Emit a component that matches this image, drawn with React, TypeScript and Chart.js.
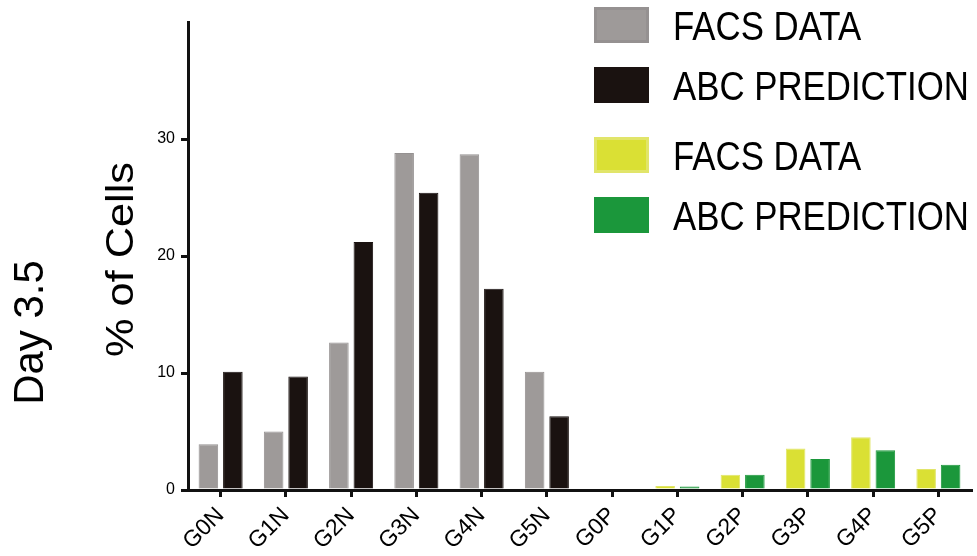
import React, { useEffect, useRef } from "react";
import { Chart, registerables } from "chart.js";

Chart.register(...registerables);

// Generation categories: N = negative population, P = positive population
const categories = ["G0N", "G1N", "G2N", "G3N", "G4N", "G5N", "G0P", "G1P", "G2P", "G3P", "G4P", "G5P"];

// Percentage of cells per generation
const facsData = [3.9, 5.0, 12.6, 28.8, 28.7, 10.1, 0, 0.35, 1.3, 3.55, 4.5, 1.8];
const abcPrediction = [10.1, 9.7, 21.2, 25.4, 17.2, 6.3, 0, 0.3, 1.3, 2.65, 3.4, 2.15];

const seriesNames = ["FACS DATA", "ABC PREDICTION"];
const yTicks = [0, 10, 20, 30];
const yMax = 40;

const yTitle = "% of Cells";
const panelTitle = "Day 3.5";

const GREY = "#9e9a99";
const GREY_EDGE = "#959191";
const BLACK = "#1a1210";
const BLACK_EDGE = "#1a1210";
const YELLOW = "#dae034";
const YELLOW_EDGE = "#e1e56a";
const GREEN = "#1b973b";
const GREEN_EDGE = "#1b973b";

const FONT = "'Liberation Sans', Arial, Helvetica, sans-serif";

const isPositive = (c: string) => c.endsWith("P");

const sideTextPlugin = {
  id: "sideText",
  afterDraw(chart: any) {
    const { ctx } = chart;
    ctx.save();

    // Legend: two pairs of swatches (N colours, then P colours)
    const legendRows = [
      { label: seriesNames[0], fill: GREY, edge: GREY_EDGE },
      { label: seriesNames[1], fill: BLACK, edge: BLACK_EDGE },
      { label: seriesNames[0], fill: YELLOW, edge: YELLOW_EDGE },
      { label: seriesNames[1], fill: GREEN, edge: GREEN_EDGE },
    ];
    const rowCenters = [25, 85, 155, 215];
    legendRows.forEach((row, i) => {
      const cy = rowCenters[i];
      ctx.fillStyle = row.edge;
      ctx.fillRect(594, cy - 18, 55, 36);
      ctx.fillStyle = row.fill;
      ctx.fillRect(597, cy - 15, 49, 30);
      ctx.save();
      ctx.translate(673, cy + 15);
      ctx.scale(0.87, 1);
      ctx.fillStyle = "#000";
      ctx.font = `40px ${FONT}`;
      ctx.textAlign = "left";
      ctx.textBaseline = "alphabetic";
      ctx.fillText(row.label, 0, 0);
      ctx.restore();
    });

    // Vertical axis title
    ctx.save();
    ctx.font = `38px ${FONT}`;
    const w = ctx.measureText(yTitle).width;
    ctx.translate(133, 259.5);
    ctx.rotate(-Math.PI / 2);
    ctx.scale(195 / w, 1);
    ctx.fillStyle = "#000";
    ctx.textAlign = "center";
    ctx.textBaseline = "alphabetic";
    ctx.fillText(yTitle, 0, 0);
    ctx.restore();

    // Panel title
    ctx.save();
    ctx.font = `42px ${FONT}`;
    ctx.translate(43, 332.5);
    ctx.rotate(-Math.PI / 2);
    ctx.fillStyle = "#000";
    ctx.textAlign = "center";
    ctx.textBaseline = "alphabetic";
    ctx.fillText(panelTitle, 0, 0);
    ctx.restore();

    ctx.restore();
  },
};

export default function App() {
  const canvasRef = useRef<HTMLCanvasElement | null>(null);

  useEffect(() => {
    if (!canvasRef.current) return;
    const chart = new Chart(canvasRef.current, {
      type: "bar",
      data: {
        labels: categories,
        datasets: [
          {
            label: seriesNames[0],
            data: facsData,
            backgroundColor: categories.map((c) => (isPositive(c) ? YELLOW : GREY)),
            borderColor: categories.map((c) => (isPositive(c) ? YELLOW_EDGE : GREY_EDGE)),
            borderWidth: 1,
            categoryPercentage: 0.75,
            barPercentage: 0.8,
          },
          {
            label: seriesNames[1],
            data: abcPrediction,
            backgroundColor: categories.map((c) => (isPositive(c) ? GREEN : BLACK)),
            borderColor: categories.map((c) => (isPositive(c) ? GREEN_EDGE : BLACK_EDGE)),
            borderWidth: 1,
            categoryPercentage: 0.75,
            barPercentage: 0.8,
          },
        ],
      },
      options: {
        animation: false,
        responsive: false,
        maintainAspectRatio: false,
        layout: { padding: { top: 22, right: 6, left: 0, bottom: 0 } },
        plugins: {
          legend: { display: false },
          tooltip: { enabled: false },
        },
        scales: {
          x: {
            offset: true,
            grid: {
              display: true,
              drawOnChartArea: false,
              offset: false,
              tickLength: 7,
              lineWidth: 3,
              color: "#111",
            },
            border: { display: true, width: 3, color: "#111" },
            ticks: {
              color: "#000",
              minRotation: 45,
              maxRotation: 45,
              padding: 5,
              font: { family: FONT, size: 23 },
            },
            afterFit: (s: any) => {
              s.height = 66;
            },
          },
          y: {
            min: 0,
            max: yMax,
            afterBuildTicks: (s: any) => {
              s.ticks = yTicks.map((v) => ({ value: v }));
            },
            grid: {
              display: true,
              drawOnChartArea: false,
              tickLength: 7,
              lineWidth: 3,
              color: "#111",
            },
            border: { display: true, width: 3, color: "#111" },
            ticks: {
              color: "#000",
              padding: 6,
              font: { family: FONT, size: 16 },
            },
            afterFit: (s: any) => {
              s.width = 188;
            },
          },
        },
      },
      plugins: [sideTextPlugin],
    });
    return () => chart.destroy();
  }, []);

  return (
    <div style={{ position: "fixed", left: 0, top: 0, width: 977, height: 556, background: "#fff" }}>
      <canvas ref={canvasRef} width={977} height={556} />
    </div>
  );
}
